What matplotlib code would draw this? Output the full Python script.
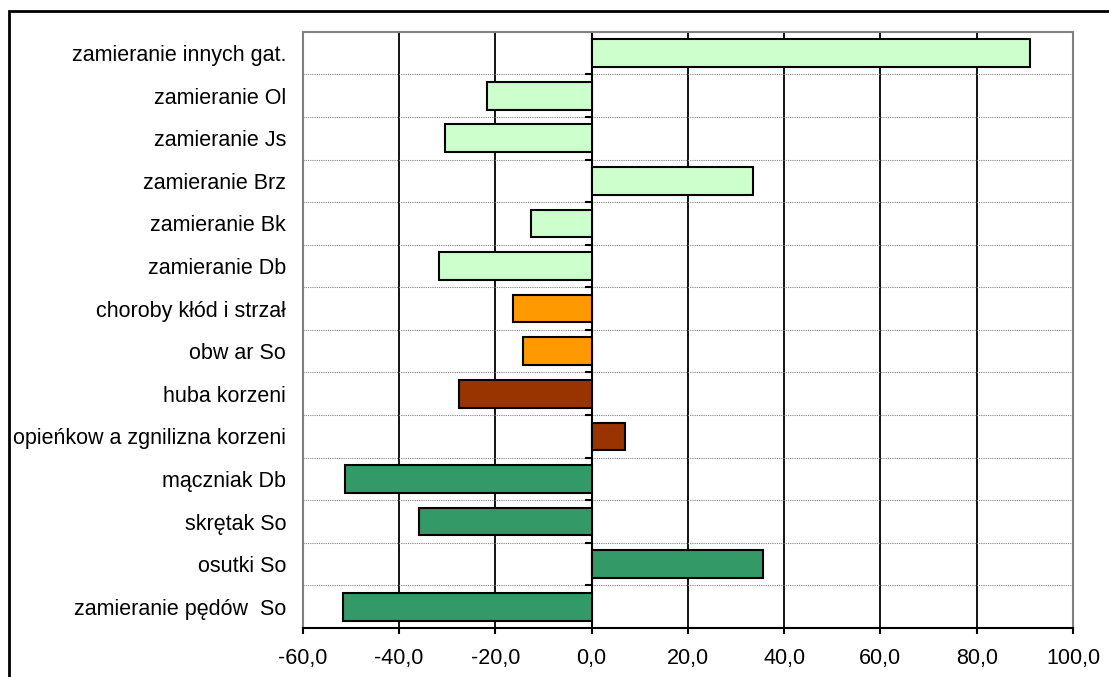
import numpy as np
import matplotlib.pyplot as plt
from matplotlib.patches import Rectangle
from matplotlib.ticker import FuncFormatter

plt.rcParams['font.family'] = ['Liberation Sans', 'DejaVu Sans']

# dane (od góry do dołu)
kategorie = ['zamieranie innych gat.', 'zamieranie Ol', 'zamieranie Js', 'zamieranie Brz',
             'zamieranie Bk', 'zamieranie Db', 'choroby kłód i strzał', 'obw ar So',
             'huba korzeni', 'opieńkow a zgnilizna korzeni', 'mączniak Db', 'skrętak So',
             'osutki So', 'zamieranie pędów  So']
wartosci = [91.0, -21.7, -30.4, 33.6, -12.6, -31.7, -16.3, -14.2,
            -27.5, 7.0, -51.3, -35.9, 35.7, -51.6]
grupy = ['zam', 'zam', 'zam', 'zam', 'zam', 'zam', 'klody', 'klody',
         'korzen', 'korzen', 'igly', 'igly', 'igly', 'igly']
kolory_grup = {'zam': '#CCFFCC', 'klody': '#FF9900', 'korzen': '#993300', 'igly': '#339966'}
x_ticks = [-60, -40, -20, 0, 20, 40, 60, 80, 100]

fig = plt.figure(figsize=(11.09, 6.77), dpi=100)
ax = fig.add_axes([0.273, 0.0724, 0.6945, 0.8806])

y = np.arange(len(kategorie))
kolory = [kolory_grup[g] for g in grupy]
ax.barh(y, wartosci, height=0.65, color=kolory, edgecolor='black', linewidth=1.5, zorder=3)

ax.set_xlim(-60, 100)
ax.set_ylim(len(kategorie) - 0.5, -0.5)
ax.set_xticks(x_ticks)
ax.xaxis.set_major_formatter(FuncFormatter(lambda v, p: f'{v:.1f}'.replace('.', ',')))
ax.set_yticks(y)
ax.set_yticklabels(kategorie)
ax.set_yticks(np.arange(len(kategorie) - 1) + 0.5, minor=True)

ax.grid(axis='x', which='major', color='black', linewidth=1.3, zorder=1)
ax.grid(axis='y', which='minor', color='#808080', linestyle=(0, (1, 1)), linewidth=0.8, zorder=1)
ax.set_axisbelow(True)

# oś pionowa w zerze z krótkimi kreskami
ax.axvline(0, color='black', linewidth=1.5, zorder=2)
ax.hlines(np.arange(len(kategorie) + 1) - 0.5, -1.3, 0, color='black', linewidth=1.5, zorder=2)

ax.tick_params(axis='y', which='both', length=0, labelsize=15.5, pad=12)
ax.tick_params(axis='x', which='major', length=4.5, width=1.5, labelsize=15.5, pad=10, direction='out')

for s in ['left', 'right', 'top']:
    ax.spines[s].set_color('#808080')
    ax.spines[s].set_linewidth(1.5)
ax.spines['bottom'].set_color('black')
ax.spines['bottom'].set_linewidth(1.5)

# ramka wykresu (ucięta z prawej i u dołu)
fig.add_artist(Rectangle((9 / 1109, -0.1), 1.2, 1.1 - 11 / 677,
                         transform=fig.transFigure, fill=False, edgecolor='black', linewidth=2))

plt.savefig('out.png', dpi=100)
